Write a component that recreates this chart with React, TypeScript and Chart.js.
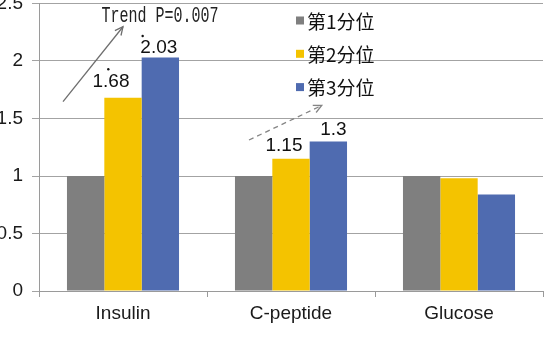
import React, { useEffect, useRef } from "react";
import { Chart, registerables } from "chart.js";

Chart.register(...registerables);

// Relative levels by tertile
const categories = ["Insulin", "C-peptide", "Glucose"];
const seriesNames = ["第1分位", "第2分位", "第3分位"];
const tertile1 = [1, 1, 1];
const tertile2 = [1.68, 1.15, 0.98];
const tertile3 = [2.03, 1.3, 0.84];
const seriesColors = ["#7f7f7f", "#f4c300", "#4f6bb0"];

const yMin = 0;
const yMax = 2.5;
const yStep = 0.5;

const trendText = "Trend P=0.007";

// Bars that carry a printed value: [dataset, category]
const labelledBars: [number, number][] = [
  [1, 0],
  [2, 0],
  [1, 1],
  [2, 1],
];
// Bars marked as significant with a small dot
const markedBars: [number, number][] = [
  [1, 0],
  [2, 0],
];

const SANS = '"Liberation Sans", Arial, sans-serif';

const annotate = {
  id: "annotate",
  afterDatasetsDraw(chart: any, _args: any, opts: any) {
    const { ctx, chartArea } = chart;
    const xs = chart.scales.x;
    const ys = chart.scales.y;
    const band = xs.getPixelForValue(1) - xs.getPixelForValue(0);
    const X = (v: number) => xs.getPixelForValue(0) + v * band;
    const Y = (v: number) => ys.getPixelForValue(v);

    ctx.save();

    // value labels above bars
    ctx.font = `19px ${SANS}`;
    ctx.fillStyle = "#111";
    ctx.textAlign = "center";
    ctx.textBaseline = "middle";
    labelledBars.forEach(([d, c], i) => {
      const el = chart.getDatasetMeta(d).data[c];
      const v = chart.data.datasets[d].data[c];
      const [dx, dy] = opts.labelNudge[i];
      ctx.fillText(String(v), el.x + dx, el.y + dy);
    });

    // significance dots
    markedBars.forEach(([d, c], i) => {
      const el = chart.getDatasetMeta(d).data[c];
      const [dx, dy] = opts.dotNudge[i];
      ctx.beginPath();
      ctx.arc(el.x + dx, el.y + dy, 1.2, 0, Math.PI * 2);
      ctx.fill();
    });

    // trend arrows
    const arrow = (
      a: [number, number],
      b: [number, number],
      color: string,
      dash: number[]
    ) => {
      const x0 = X(a[0]);
      const y0 = Y(a[1]);
      const x1 = X(b[0]);
      const y1 = Y(b[1]);
      ctx.strokeStyle = color;
      ctx.lineWidth = 1.3;
      ctx.setLineDash(dash);
      ctx.beginPath();
      ctx.moveTo(x0, y0);
      ctx.lineTo(x1, y1);
      ctx.stroke();
      ctx.setLineDash([]);
      const ang = Math.atan2(y1 - y0, x1 - x0);
      const len = 9;
      const spread = 0.45;
      ctx.beginPath();
      ctx.moveTo(x1 - len * Math.cos(ang - spread), y1 - len * Math.sin(ang - spread));
      ctx.lineTo(x1, y1);
      ctx.lineTo(x1 - len * Math.cos(ang + spread), y1 - len * Math.sin(ang + spread));
      ctx.stroke();
    };
    arrow([-0.357, 1.646], [0.0, 2.298], "#6e6e6e", []);
    arrow([0.75, 1.313], [1.183, 1.613], "#858585", [5, 4]);

    // trend caption
    ctx.save();
    ctx.translate(X(0.22), Y(2.342));
    ctx.scale(1, 1.5);
    ctx.font = '15px "Liberation Mono", "DejaVu Sans Mono", monospace';
    ctx.fillStyle = "#222";
    ctx.textAlign = "center";
    ctx.textBaseline = "alphabetic";
    ctx.fillText(trendText, 0, 0);
    ctx.restore();

    // legend
    const lx = chartArea.left + opts.legend.dx;
    let ly = chartArea.top + opts.legend.dy;
    ctx.font = '19px "Noto Sans CJK SC", sans-serif';
    ctx.textAlign = "left";
    ctx.textBaseline = "middle";
    chart.data.datasets.forEach((ds: any) => {
      ctx.fillStyle = ds.backgroundColor;
      ctx.fillRect(lx, ly - 4, 8, 8);
      ctx.fillStyle = "#111";
      ctx.fillText(ds.label, lx + 11, ly + 1);
      ly += opts.legend.gap;
    });

    ctx.restore();
  },
};

export default function App() {
  const ref = useRef<HTMLCanvasElement>(null);

  useEffect(() => {
    const series = [tertile1, tertile2, tertile3];
    const chart = new Chart(ref.current as HTMLCanvasElement, {
      type: "bar",
      data: {
        labels: categories,
        datasets: series.map((data, i) => ({
          label: seriesNames[i],
          data,
          backgroundColor: seriesColors[i],
          borderWidth: 0,
          categoryPercentage: 0.667,
          barPercentage: 1,
        })),
      },
      options: {
        responsive: false,
        devicePixelRatio: 1,
        animation: false,
        events: [],
        layout: { padding: { top: 3.5, right: 4, bottom: 0, left: 0 } },
        plugins: {
          legend: { display: false },
          tooltip: { enabled: false },
          annotate: {
            labelNudge: [
              [-12, -16],
              [-1.5, -9.5],
              [-7, -12.5],
              [5, -11.5],
            ],
            dotNudge: [
              [-14.7, -28.5],
              [-17.7, -21.5],
            ],
            legend: { dx: 257, dy: 17, gap: 33.3 },
          },
        } as any,
        scales: {
          x: {
            afterFit(scale: any) {
              scale.height = 46;
              scale.paddingLeft = 0;
              scale.paddingRight = 0;
            },
            grid: {
              display: true,
              drawOnChartArea: false,
              drawTicks: true,
              tickLength: 6,
              color: "#9a9a9a",
              offset: true,
            },
            border: { display: true, color: "#9a9a9a", width: 1 },
            ticks: {
              font: { family: SANS, size: 19 },
              color: "#1a1a1a",
              padding: 5,
              maxRotation: 0,
            },
          },
          y: {
            min: yMin,
            max: yMax,
            afterFit(scale: any) {
              scale.width = 39;
              scale.paddingTop = 0;
              scale.paddingBottom = 0;
            },
            ticks: {
              stepSize: yStep,
              font: { family: SANS, size: 19 },
              color: "#1a1a1a",
              padding: 9,
              callback: (v: any) => String(Number(v)),
            },
            grid: {
              color: "#a3a3a3",
              tickLength: 7,
              lineWidth: 1,
            },
            border: { display: true, color: "#9a9a9a", width: 1 },
          },
        },
      },
      plugins: [annotate],
    });
    return () => chart.destroy();
  }, []);

  return (
    <div
      style={{
        position: "fixed",
        left: 0,
        top: 0,
        width: 547,
        height: 337,
        background: "#ffffff",
      }}
    >
      <canvas
        ref={ref}
        width={547}
        height={337}
        style={{ display: "block", width: 547, height: 337 }}
      />
    </div>
  );
}
